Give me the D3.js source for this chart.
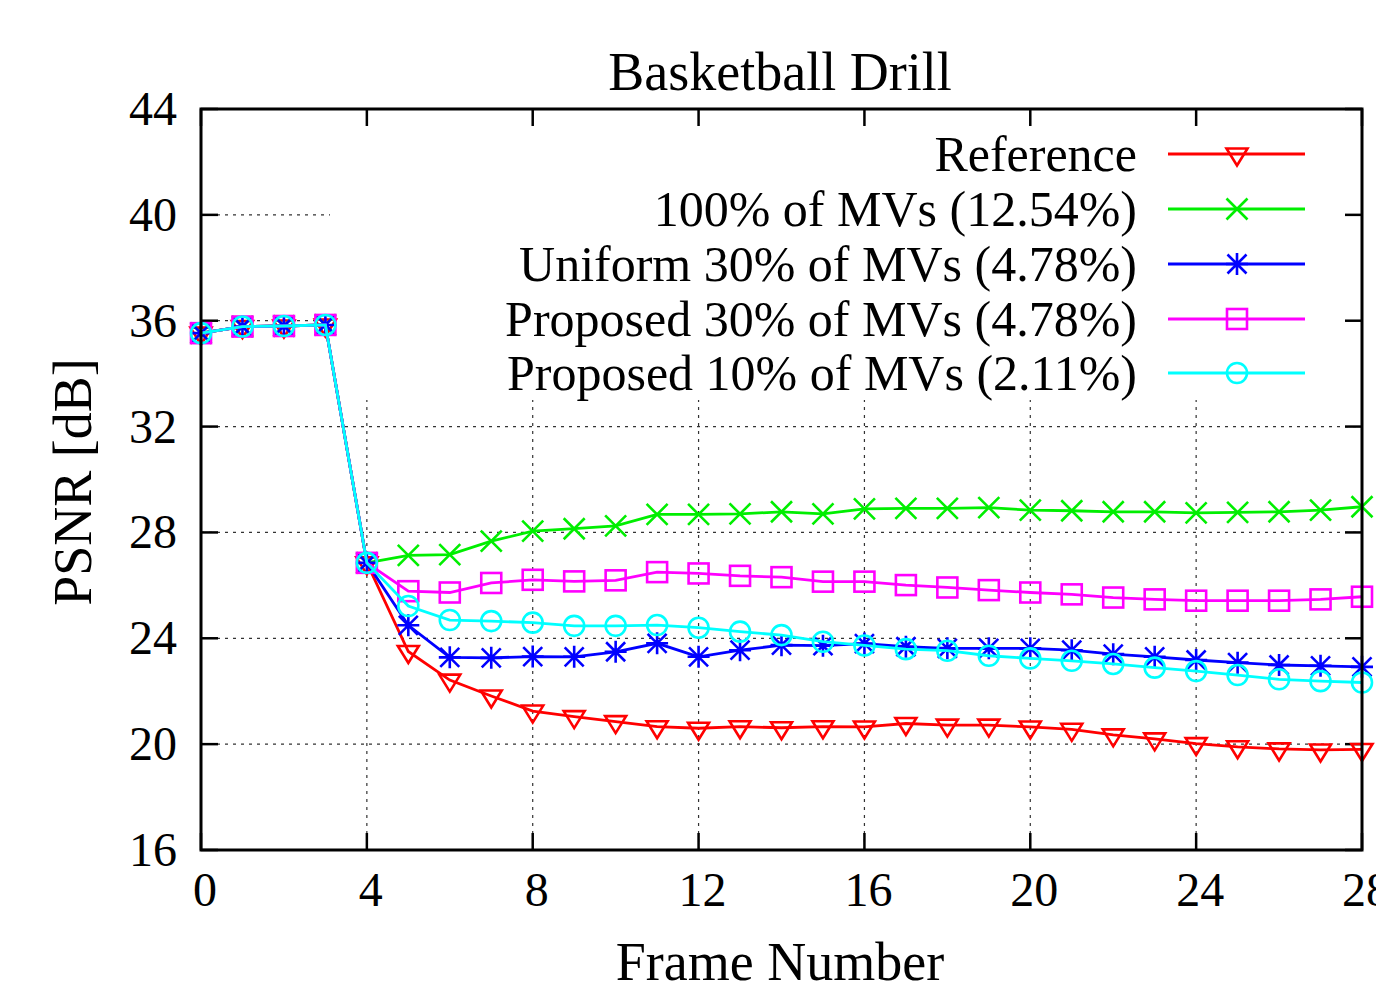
<!DOCTYPE html>
<html>
<head>
<meta charset="utf-8">
<script src="https://cdn.jsdelivr.net/npm/d3@7"></script>
<style>
  body { margin: 0; background: #fff; }
  text { font-family: "Liberation Serif", "DejaVu Serif", serif; fill: #000; }
</style>
</head>
<body>
<div id="chart"></div>
<script>
"use strict";

// frame numbers 0..28
var frames = d3.range(0, 29);

var reference = [35.53, 35.78, 35.8, 35.84, 26.85, 23.5, 22.42, 21.82, 21.25, 21.04, 20.85, 20.66, 20.6, 20.66, 20.62,
  20.66, 20.65, 20.78, 20.72, 20.72, 20.65, 20.56, 20.35, 20.2, 20.02, 19.9, 19.82, 19.78, 19.8];
var mv100 = [35.53, 35.78, 35.8, 35.84, 26.85, 27.13, 27.16, 27.67, 28.05, 28.14, 28.25, 28.68, 28.68, 28.7, 28.78,
  28.7, 28.89, 28.91, 28.91, 28.94, 28.84, 28.82, 28.78, 28.78, 28.74, 28.76, 28.78, 28.84, 28.97];
var uniform30 = [35.53, 35.78, 35.8, 35.84, 26.85, 24.49, 23.28, 23.26, 23.31, 23.3, 23.49, 23.81, 23.3, 23.55, 23.74,
  23.72, 23.8, 23.68, 23.62, 23.62, 23.62, 23.55, 23.4, 23.3, 23.18, 23.08, 22.99, 22.96, 22.92];
var proposed30 = [35.53, 35.78, 35.8, 35.84, 26.85, 25.78, 25.73, 26.09, 26.21, 26.15, 26.19, 26.5, 26.45, 26.36, 26.31,
  26.14, 26.14, 26.01, 25.92, 25.82, 25.73, 25.66, 25.54, 25.47, 25.42, 25.42, 25.42, 25.47, 25.57];
var proposed10 = [35.53, 35.78, 35.8, 35.84, 26.85, 25.22, 24.69, 24.65, 24.59, 24.47, 24.47, 24.5, 24.4, 24.25, 24.12,
  23.87, 23.73, 23.59, 23.53, 23.34, 23.24, 23.15, 23.03, 22.89, 22.76, 22.61, 22.45, 22.38, 22.33];

var seriesNames = ["Reference", "100% of MVs (12.54%)", "Uniform 30% of MVs (4.78%)",
  "Proposed 30% of MVs (4.78%)", "Proposed 10% of MVs (2.11%)"];
var seriesColors = ["#ff0000", "#00ee00", "#0000ff", "#ff00ff", "#00ffff"];
var seriesMarkers = ["triangle", "cross", "star", "square", "circle"];

var xTicks = [0, 4, 8, 12, 16, 20, 24, 28];
var yTicks = [16, 20, 24, 28, 32, 36, 40, 44];

var allSeries = [reference, mv100, uniform30, proposed30, proposed10];

var W = 1376, H = 991;
var margin = {top: 109, right: 14, bottom: 141, left: 201};

var svg = d3.select("#chart").append("svg")
  .attr("width", W)
  .attr("height", H);

var x = d3.scaleLinear().domain([0, 28]).range([margin.left, W - margin.right]);
var y = d3.scaleLinear().domain([16, 44]).range([H - margin.bottom, margin.top]);

// dotted grid
var grid = svg.append("g")
  .attr("stroke", "#333")
  .attr("stroke-width", 1.2)
  .attr("stroke-dasharray", "3,5");
grid.selectAll("line.h").data(yTicks.slice(1, -1)).enter().append("line")
  .attr("x1", x(0)).attr("x2", x(28))
  .attr("y1", function(d) { return y(d); })
  .attr("y2", function(d) { return y(d); });
grid.selectAll("line.v").data(xTicks.slice(1, -1)).enter().append("line")
  .attr("y1", y(16)).attr("y2", y(44))
  .attr("x1", function(d) { return x(d); })
  .attr("x2", function(d) { return x(d); });

// opaque key box hides the grid behind the legend
svg.append("rect")
  .attr("x", 330).attr("y", y(44) + 2)
  .attr("width", x(28) - 330 - 2)
  .attr("height", 398 - y(44))
  .attr("fill", "#fff");

// ticks (inward, mirrored on all sides)
var tickLen = 17;
var ticks = svg.append("g").attr("stroke", "#000").attr("stroke-width", 2.5);
xTicks.forEach(function(t) {
  ticks.append("line").attr("x1", x(t)).attr("x2", x(t)).attr("y1", y(16)).attr("y2", y(16) - tickLen);
  ticks.append("line").attr("x1", x(t)).attr("x2", x(t)).attr("y1", y(44)).attr("y2", y(44) + tickLen);
});
yTicks.forEach(function(t) {
  ticks.append("line").attr("x1", x(0)).attr("x2", x(0) + tickLen).attr("y1", y(t)).attr("y2", y(t));
  ticks.append("line").attr("x1", x(28)).attr("x2", x(28) - tickLen).attr("y1", y(t)).attr("y2", y(t));
});

// marker shapes
function drawMarker(g, type, cx, cy, color) {
  var m = g.append("g").attr("transform", "translate(" + cx + "," + cy + ")")
    .attr("fill", "none").attr("stroke", color).attr("stroke-width", 2.6);
  if (type == "triangle") {
    m.append("path").attr("d", "M-10.5,-5.5L10.5,-5.5L0,11.5Z");
  } else if (type == "cross") {
    m.append("path").attr("d", "M-10.5,-10.5L10.5,10.5M-10.5,10.5L10.5,-10.5");
  } else if (type == "star") {
    m.append("path").attr("d", "M-9.5,-9.5L9.5,9.5M-9.5,9.5L9.5,-9.5M0,-11L0,11M-11,0L11,0");
  } else if (type == "square") {
    m.append("rect").attr("x", -10).attr("y", -10).attr("width", 20).attr("height", 20);
  } else if (type == "circle") {
    m.append("circle").attr("r", 10);
  }
}

var line = d3.line()
  .x(function(d, i) { return x(frames[i]); })
  .y(function(d) { return y(d); });

allSeries.forEach(function(vals, k) {
  var g = svg.append("g");
  g.append("path")
    .datum(vals)
    .attr("d", line)
    .attr("fill", "none")
    .attr("stroke", seriesColors[k])
    .attr("stroke-width", 2.8);
  vals.forEach(function(v, i) {
    drawMarker(g, seriesMarkers[k], x(frames[i]), y(v), seriesColors[k]);
  });
});

// border
svg.append("rect")
  .attr("x", x(0)).attr("y", y(44))
  .attr("width", x(28) - x(0))
  .attr("height", y(16) - y(44))
  .attr("fill", "none")
  .attr("stroke", "#000")
  .attr("stroke-width", 3);

// tick labels
svg.selectAll("text.xt").data(xTicks).enter().append("text")
  .attr("x", function(d) { return x(d) + 4; })
  .attr("y", 906)
  .attr("text-anchor", "middle")
  .style("font-size", "48px")
  .text(function(d) { return d; });
svg.selectAll("text.yt").data(yTicks).enter().append("text")
  .attr("x", 177)
  .attr("y", function(d) { return y(d) + 16; })
  .attr("text-anchor", "end")
  .style("font-size", "48px")
  .text(function(d) { return d; });

// title and axis labels
svg.append("text")
  .attr("x", 780).attr("y", 90)
  .attr("text-anchor", "middle")
  .style("font-size", "54px")
  .text("Basketball Drill");
svg.append("text")
  .attr("x", 780).attr("y", 980)
  .attr("text-anchor", "middle")
  .style("font-size", "54px")
  .text("Frame Number");
svg.append("text")
  .attr("transform", "translate(91,482) rotate(-90)")
  .attr("text-anchor", "middle")
  .style("font-size", "54px")
  .text("PSNR [dB]");

// legend
var legendY = [154, 209, 264, 319, 373];
seriesNames.forEach(function(name, k) {
  var ly = legendY[k];
  svg.append("text")
    .attr("x", 1137).attr("y", ly + 17)
    .attr("text-anchor", "end")
    .style("font-size", "50px")
    .text(name);
  svg.append("line")
    .attr("x1", 1168).attr("x2", 1305)
    .attr("y1", ly).attr("y2", ly)
    .attr("stroke", seriesColors[k])
    .attr("stroke-width", 2.8);
  drawMarker(svg, seriesMarkers[k], 1237, ly, seriesColors[k]);
});
</script>
</body>
</html>
